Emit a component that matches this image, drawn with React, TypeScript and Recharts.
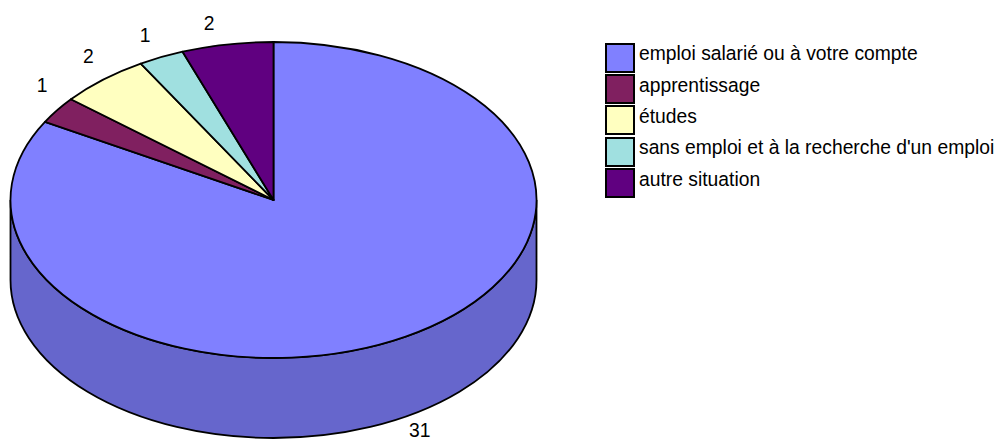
import { Legend, Pie, PieChart } from "recharts";

const categories = [
  "emploi salarié ou à votre compte",
  "apprentissage",
  "études",
  "sans emploi et à la recherche d'un emploi",
  "autre situation",
];
const counts = [31, 1, 2, 1, 2];
const colors = ["#8080FF", "#802060", "#FFFFC0", "#A0E0E0", "#600080"];
const wallColors = ["#6666CC", "#661A4D", "#CCCC9A", "#80B3B3", "#4D0066"];

const chartData = categories.map((name, i) => ({
  name,
  value: counts[i],
  fill: colors[i],
  wall: wallColors[i],
}));

const WIDTH = 998;
const HEIGHT = 439;
const CX = 273.5;
const CY = 200;
const RADIUS = 263;
const SQUASH = 158 / 263;
const DEPTH = 80;
const TILT = 2.3; // the tilted disc pulls the slice edges a little, in degrees
const FONT = "'Liberation Sans', Arial, sans-serif";
const FONT_SIZE = 19.3;
const LINE = 1.8;

const rad = (deg: number) => (deg * Math.PI) / 180;

const pointAt = (cx: number, cy: number, r: number, deg: number) => ({
  x: cx + r * Math.cos(rad(deg)),
  y: cy - r * SQUASH * Math.sin(rad(deg)),
});

const tilted = (deg: number) => deg - TILT * Math.cos(rad(deg));

// top face of the disc: the sector squashed to an ellipse
function TopSector(props: any) {
  const { cx, cy, outerRadius: r, startAngle, endAngle, fill } = props;
  const a = pointAt(cx, cy, r, tilted(startAngle));
  const b = pointAt(cx, cy, r, tilted(endAngle));
  const large = Math.abs(startAngle - endAngle) > 180 ? 1 : 0;
  const d = `M${cx},${cy} L${a.x},${a.y} A${r},${r * SQUASH} 0 ${large} 1 ${b.x},${b.y} Z`;
  return <path d={d} fill={fill} stroke="#000" strokeWidth={LINE} strokeLinejoin="round" />;
}

// rim of the disc, only the part that faces the viewer
function WallSector(props: any) {
  const { cx, cy, outerRadius: r, startAngle, endAngle, payload } = props;
  const hi = Math.min(startAngle, 0);
  const lo = Math.max(endAngle, -180);
  if (hi <= lo) return null;
  const a = pointAt(cx, cy, r, hi);
  const b = pointAt(cx, cy, r, lo);
  const ry = r * SQUASH;
  const d =
    `M${a.x},${a.y} A${r},${ry} 0 0 1 ${b.x},${b.y} L${b.x},${b.y + DEPTH} ` +
    `A${r},${ry} 0 0 0 ${a.x},${a.y + DEPTH} Z`;
  return <path d={d} fill={payload.wall} stroke="#000" strokeWidth={LINE} />;
}

function SliceLabel(props: any) {
  const { midAngle, value } = props;
  const p = pointAt(CX, CY, RADIUS, midAngle);
  const front = Math.sin(rad(midAngle)) < 0;
  const x = p.x + (Math.cos(rad(midAngle)) < 0 ? -20 : 18);
  const y = front ? p.y + DEPTH + 13 : p.y - 21;
  return (
    <text x={x} y={y} textAnchor="middle" dominantBaseline="central" fontSize={FONT_SIZE} fontFamily={FONT} fill="#000">
      {value}
    </text>
  );
}

function LegendList({ payload }: any) {
  const items = categories.map((name) => (payload || []).find((p: any) => p.value === name)).filter(Boolean);
  return (
    <div style={{ fontFamily: FONT, fontSize: FONT_SIZE, color: "#000" }}>
      {items.map((item: any, i: number) => (
        <div key={i} style={{ display: "flex", alignItems: "center", height: 31.4, whiteSpace: "nowrap" }}>
          <span
            style={{
              display: "inline-block",
              boxSizing: "border-box",
              width: 29.5,
              height: 30,
              marginRight: 4.5,
              background: item.color,
              border: "2px solid #000",
            }}
          />
          <span style={{ position: "relative", top: -3.5 }}>{item.value}</span>
        </div>
      ))}
    </div>
  );
}

export default function App() {
  return (
    <div style={{ position: "absolute", left: 0, top: 0, width: WIDTH, height: HEIGHT, background: "#fff" }}>
      <PieChart width={WIDTH} height={HEIGHT} margin={{ top: 0, right: 0, bottom: 0, left: 0 }}>
        <Pie
          data={chartData}
          dataKey="value"
          nameKey="name"
          cx={CX}
          cy={CY}
          outerRadius={RADIUS}
          startAngle={90}
          endAngle={-270}
          legendType="none"
          shape={WallSector}
          isAnimationActive={false}
        />
        <Pie
          data={chartData}
          dataKey="value"
          nameKey="name"
          cx={CX}
          cy={CY}
          outerRadius={RADIUS}
          startAngle={90}
          endAngle={-270}
          shape={TopSector}
          label={SliceLabel}
          labelLine={false}
          isAnimationActive={false}
        />
        <Legend
          layout="vertical"
          align="center"
          verticalAlign="middle"
          content={LegendList}
          wrapperStyle={{ left: 605, top: 42, width: 393 }}
        />
      </PieChart>
    </div>
  );
}
